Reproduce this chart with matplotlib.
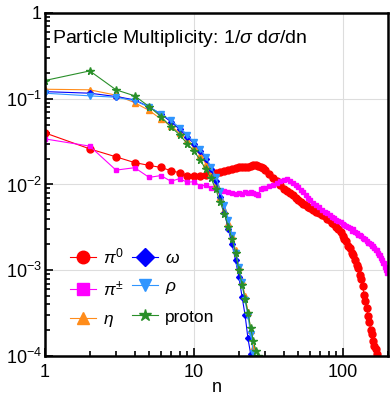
import matplotlib
matplotlib.use("Agg")
import matplotlib.pyplot as plt
from matplotlib.ticker import FixedLocator, FixedFormatter, LogLocator, NullFormatter

plt.rcParams['font.family'] = ['Liberation Sans', 'DejaVu Sans']
plt.rcParams['mathtext.fontset'] = 'custom'
plt.rcParams['mathtext.rm'] = 'Liberation Sans'
plt.rcParams['mathtext.it'] = 'Liberation Sans:italic'

# multiplicity values n
n_pi = list(range(1, 31)) + list(range(32, 61, 2)) + list(range(63, 172, 3))
n_pic = list(range(1, 31)) + list(range(32, 61, 2)) + list(range(63, 199, 3))
n_eta = list(range(1, 26))
n_omega = list(range(1, 25))
n_rho = list(range(1, 26))
n_proton = list(range(1, 28))

pi0 = [0.040, 0.026, 0.021, 0.018, 0.0167, 0.0158, 0.0145, 0.0137, 0.0124, 0.0126,
       0.0125, 0.0128, 0.0131, 0.0135, 0.0138, 0.0142, 0.0146, 0.0150, 0.0155, 0.0160,
       0.0161, 0.0158, 0.0162, 0.0165, 0.0167, 0.0168, 0.0164, 0.0160, 0.0154, 0.0147,
       0.0131, 0.0120, 0.0109, 0.0098, 0.0089, 0.0084, 0.0079, 0.0075, 0.0070, 0.0066,
       0.0063, 0.0060, 0.0057, 0.0055, 0.0053,
       0.0050, 0.0048, 0.0046, 0.0044, 0.0043, 0.0040, 0.0039, 0.0036, 0.0035, 0.0032,
       0.0030, 0.0028, 0.0025, 0.0023, 0.0022, 0.0019, 0.0018, 0.0016, 0.0015, 0.0013,
       0.00115, 0.00105, 0.00088, 0.00080, 0.00066, 0.00052, 0.00044, 0.00036, 0.00029, 0.00025,
       0.00020, 0.00018, 0.00015, 0.00013, 0.00012, 0.000105, 0.000092]

pic = [0.034, 0.028, 0.0147, 0.0157, 0.0121, 0.0127, 0.0109, 0.0117, 0.0106, 0.0108,
       0.0096, 0.0098, 0.0092, 0.0090, 0.0085, 0.0083, 0.0081, 0.0080, 0.0078, 0.0079,
       0.0078, 0.0081, 0.0080, 0.0082, 0.0079, 0.0078, 0.0075, 0.0088, 0.0090, 0.0092,
       0.0095, 0.0099, 0.0105, 0.0110, 0.0114, 0.0115, 0.0110, 0.0104, 0.0099, 0.0094,
       0.0087, 0.0081, 0.0075, 0.0070, 0.0066,
       0.0061, 0.0057, 0.0054, 0.0051, 0.0048, 0.0046, 0.0044, 0.0042, 0.0041, 0.0039,
       0.0038, 0.0037, 0.0035, 0.0034, 0.0033, 0.0032, 0.0031, 0.0029, 0.0030, 0.0028,
       0.0027, 0.0026, 0.0026, 0.0025, 0.0024, 0.0023, 0.0023, 0.0022, 0.0021, 0.0021,
       0.0020, 0.0019, 0.0019, 0.0018, 0.0017, 0.0017, 0.0016, 0.0015, 0.0015, 0.0014,
       0.0013, 0.0012, 0.0012, 0.0011, 0.00100, 0.00093]

eta = [0.129, 0.127, 0.110, 0.090, 0.073, 0.058, 0.048, 0.040, 0.033, 0.027,
       0.022, 0.0175, 0.0135, 0.0100, 0.0072, 0.0051, 0.0036, 0.0025, 0.0017, 0.0011,
       0.00074, 0.00050, 0.00033, 0.00020, 0.000125]

omega = [0.121, 0.116, 0.106, 0.097, 0.080, 0.066, 0.054, 0.044, 0.036, 0.030,
         0.0246, 0.0199, 0.0150, 0.0110, 0.0072, 0.0047, 0.0030, 0.0020, 0.0013, 0.00083,
         0.00049, 0.00030, 0.00016, 0.000105]

rho = [0.116, 0.108, 0.104, 0.095, 0.080, 0.067, 0.056, 0.046, 0.038, 0.031,
       0.026, 0.021, 0.016, 0.0122, 0.0085, 0.0058, 0.0039, 0.0026, 0.0016, 0.0011,
       0.00072, 0.00045, 0.00029, 0.00018, 0.000108]

proton = [0.163, 0.211, 0.127, 0.108, 0.081, 0.062, 0.047, 0.038, 0.030, 0.0245,
          0.0193, 0.0150, 0.0118, 0.0088, 0.0062, 0.0045, 0.0032, 0.0023, 0.0016, 0.0010,
          0.00068, 0.00046, 0.00032, 0.00021, 0.00015, 0.000115, 0.000100]

fig = plt.figure(figsize=(3.9, 4.05), dpi=100)
ax = fig.add_axes([0.115, 0.121, 0.880, 0.847])

ax.plot(n_pi, pi0, '-o', color='#ff0000', lw=0.8, ms=5, label=r'$\pi^0$')
ax.plot(n_pic, pic, '-s', color='#ff00ff', lw=0.8, ms=3.5, label=r'$\pi^{\pm}$')
ax.plot(n_eta, eta, '-^', color='#ff8c1a', lw=0.8, ms=4, label=r'$\eta$')
ax.plot(n_omega, omega, '-D', color='#0000ff', lw=0.8, ms=3, label=r'$\omega$')
ax.plot(n_rho, rho, '-v', color='#2f95ff', lw=0.8, ms=4, label=r'$\rho$')
ax.plot(n_proton, proton, '-*', color='#2a8f2a', lw=0.8, ms=5.5, label='proton')

ax.set_xscale('log')
ax.set_yscale('log')
ax.set_xlim(1, 200)
ax.set_ylim(1e-4, 1)

ax.xaxis.set_major_locator(FixedLocator([1, 10, 100]))
ax.xaxis.set_major_formatter(FixedFormatter(['1', '10', '100']))
ax.xaxis.set_minor_locator(LogLocator(base=10, subs=range(2, 10)))
ax.xaxis.set_minor_formatter(NullFormatter())
ax.yaxis.set_major_locator(FixedLocator([1e-4, 1e-3, 1e-2, 1e-1, 1]))
ax.yaxis.set_major_formatter(FixedFormatter([r'$10^{-4}$', r'$10^{-3}$', r'$10^{-2}$', r'$10^{-1}$', '1']))
ax.yaxis.set_minor_locator(LogLocator(base=10, subs=range(2, 10)))
ax.yaxis.set_minor_formatter(NullFormatter())

ax.tick_params(which='both', direction='in', top=False, right=False, labelsize=13, width=1.2)
ax.tick_params(which='major', length=6)
ax.tick_params(which='minor', length=3.5)
ax.tick_params(axis='y', which='major', pad=2)
ax.tick_params(axis='x', which='major', pad=6)
ax.grid(True, which='major', color='#dddddd', lw=0.8)
ax.set_axisbelow(True)
for s in ax.spines.values():
    s.set_linewidth(1.8)

ax.set_xlabel('n', fontsize=13, labelpad=-2)
ax.text(0.02, 0.955, r'Particle Multiplicity: 1/$\sigma$ d$\sigma$/dn', transform=ax.transAxes,
        fontsize=14, va='top', ha='left')

leg = ax.legend(ncol=2, loc='upper left', bbox_to_anchor=(0.047, 0.345), frameon=False,
                fontsize=12.5, handlelength=1.5, handletextpad=0.4, columnspacing=0.5,
                labelspacing=0.75, borderpad=0)
for h in leg.legend_handles:
    h.set_markersize(9)

plt.savefig('out.png', dpi=100)
